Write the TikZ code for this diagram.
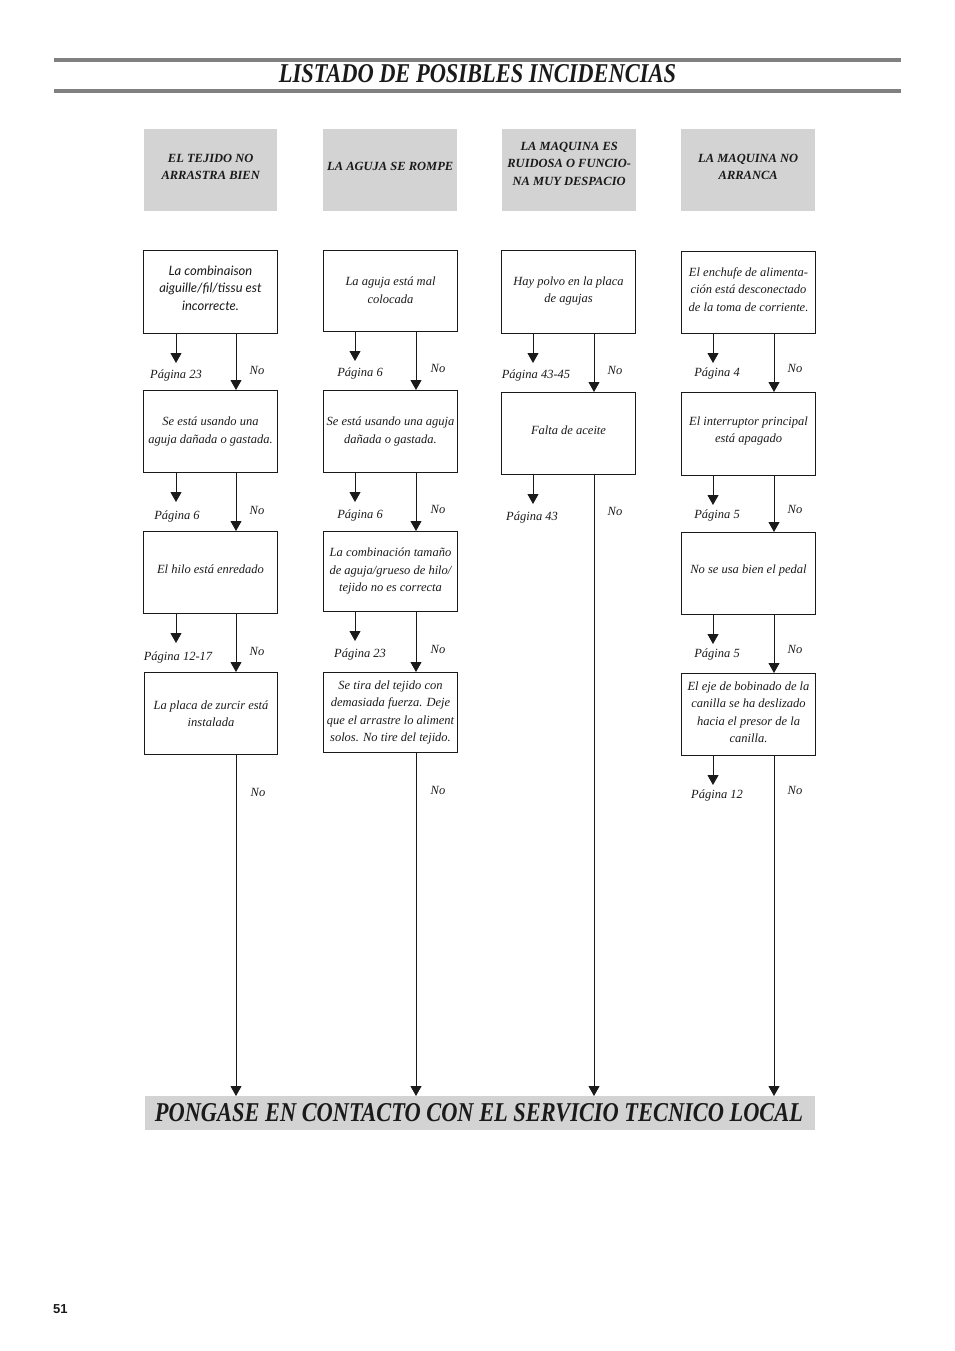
\documentclass[tikz,border=0pt]{standalone}
\usepackage{fontspec}
\setmainfont{Liberation Serif}
\setsansfont{Liberation Sans}
\newfontfamily\optfont{Lato}
\usetikzlibrary{arrows.meta,calc}
\definecolor{hdrgray}{HTML}{D3D3D3}
\definecolor{rulegray}{HTML}{808080}
\definecolor{ink}{HTML}{1A1A1A}
\newcommand\yesarr[2]{\draw[arr] ($(#1.south west)+(#2,0)$) -- ++(0,29);}
\newcommand\noarr[3]{\coordinate (#1r) at ($(#1.south west)+(#3,0)$); \draw[arr] (#1r) -- (#1r |- #2.north);}
% box text: name, dy (downwards positive), text
\newcommand\boxtext[3]{\node[btext] (#1t) at ($(#1.center)+(0,#2)$) {#3};}
\newcommand\hdrtext[3]{\node[htext] (#1t) at ($(#1.center)+(0,#2)$) {#3};}
\begin{document}
\begin{tikzpicture}[x=1pt,y=-1pt,
 hdr/.style={fill=hdrgray, draw=none, minimum width=134, minimum height=82, anchor=north west, inner sep=0},
 htext/.style={align=center, inner sep=0, font=\fontsize{12.5}{17.5}\selectfont\bfseries\itshape, text=ink},
 tbox/.style={draw=ink, line width=1pt, minimum width=134, minimum height=82, anchor=north west, inner sep=0},
 btext/.style={align=center, inner sep=0, font=\fontsize{12.5}{17.5}\selectfont\itshape, text=ink},
 lbl/.style={font=\fontsize{12.5}{14}\selectfont\itshape, text=ink, inner sep=0, anchor=base},
 arr/.style={draw=ink, line width=1pt, -{Triangle[length=10pt,width=11pt]}},
 rule/.style={draw=rulegray, line width=4pt}]
\useasboundingbox (0,0) rectangle (954,1351);
% title
\coordinate (r1a) at (54,60); \coordinate (r1b) at (901,60);
\coordinate (r2a) at (54,91); \coordinate (r2b) at (901,91);
\draw[rule] (r1a) -- (r1b);
\draw[rule] (r2a) -- (r2b);
\node[anchor=base, inner sep=0, text=ink] (title) at (477.5,83) {\resizebox{397pt}{18pt}{\bfseries\itshape LISTADO DE POSIBLES INCIDENCIAS}};
% headers
\node[hdr, minimum width=133] (h1) at (144,129) {};
\node[hdr] (h2) at (323,129) {};
\node[hdr] (h3) at (502,129) {};
\node[hdr] (h4) at (681,129) {};
\hdrtext{h1}{-3.5}{EL TEJIDO NO\\ARRASTRA BIEN}
\hdrtext{h2}{-4}{LA AGUJA SE ROMPE}
\hdrtext{h3}{-6.5}{LA MAQUINA ES\\RUIDOSA O FUNCIO-\\NA MUY DESPACIO}
\hdrtext{h4}{-3.5}{LA MAQUINA NO\\ARRANCA}
% column 1
\node[tbox, minimum height=83] (a1) at (143,250) {};
\node[tbox] (a2) at (143,390) {};
\node[tbox] (a3) at (143,531) {};
\node[tbox, minimum width=133] (a4) at (144,672) {};
\node[btext, font=\fontsize{13}{17.5}\selectfont\optfont\itshape] (a1t) at ($(a1.center)+(0,-4)$) {La combinaison\\aiguille/fil/tissu est\\incorrecte.};
\boxtext{a2}{0}{Se está usando una\\aguja dañada o gastada.}
\boxtext{a3}{-3}{El hilo está enredado}
\boxtext{a4}{0}{La placa de zurcir está\\instalada}
% column 2
\node[tbox, minimum height=81] (b1) at (323,250) {};
\node[tbox] (b2) at (323,390) {};
\node[tbox, minimum height=80] (b3) at (323,531) {};
\node[tbox, minimum height=80] (b4) at (323,672) {};
\boxtext{b1}{-1}{La aguja está mal\\colocada}
\boxtext{b2}{0}{Se está usando una aguja\\dañada o gastada.}
\boxtext{b3}{-0.5}{La combinación tamaño\\de aguja/grueso de hilo/\\tejido no es correcta}
\boxtext{b4}{0}{Se tira del tejido con\\demasiada fuerza. Deje\\que el arrastre lo aliment\\solos. No tire del tejido.}
% column 3
\node[tbox, minimum height=83] (c1) at (501,250) {};
\node[tbox] (c2) at (501,392) {};
\boxtext{c1}{-1}{Hay polvo en la placa\\de agujas}
\boxtext{c2}{-3}{Falta de aceite}
% column 4
\node[tbox] (d1) at (681,251) {};
\node[tbox, minimum height=83] (d2) at (681,392) {};
\node[tbox] (d3) at (681,532) {};
\node[tbox] (d4) at (681,673) {};
\boxtext{d1}{-3}{El enchufe de alimenta-\\ción está desconectado\\de la toma de corriente.}
\boxtext{d2}{-3}{El interruptor principal\\está apagado}
\boxtext{d3}{-3}{No se usa bien el pedal}
\boxtext{d4}{-2.5}{El eje de bobinado de la\\canilla se ha deslizado\\hacia el presor de la\\canilla.}
% banner
\node[fill=hdrgray, minimum width=670, minimum height=34, anchor=north west, inner sep=0] (fin) at (145,1096) {};
\node[anchor=base, inner sep=0, text=ink] (fintext) at (479,1121) {\resizebox{648pt}{18pt}{\bfseries\itshape PONGASE EN CONTACTO CON EL SERVICIO TECNICO LOCAL}};
% connectors col 1
\yesarr{a1}{33} \noarr{a1}{a2}{93}
\yesarr{a2}{33} \noarr{a2}{a3}{93}
\yesarr{a3}{33} \noarr{a3}{a4}{93}
\noarr{a4}{fin}{92}
% col 2
\yesarr{b1}{32} \noarr{b1}{b2}{93}
\yesarr{b2}{32} \noarr{b2}{b3}{93}
\yesarr{b3}{32} \noarr{b3}{b4}{93}
\noarr{b4}{fin}{93}
% col 3
\yesarr{c1}{32} \noarr{c1}{c2}{93}
\yesarr{c2}{32} \noarr{c2}{fin}{93}
% col 4
\yesarr{d1}{32} \noarr{d1}{d2}{93}
\yesarr{d2}{32} \noarr{d2}{d3}{93}
\yesarr{d3}{32} \noarr{d3}{d4}{93}
\yesarr{d4}{32} \noarr{d4}{fin}{93}
% labels col 1
\node[lbl] (pa1) at (176,378) {Página 23};   \node[lbl] (na1) at (257,374) {No};
\node[lbl] (pa2) at (177,519) {Página 6};    \node[lbl] (na2) at (257,514) {No};
\node[lbl] (pa3) at (178,660) {Página 12-17};\node[lbl] (na3) at (257,655) {No};
\node[lbl] (na4) at (258,796) {No};
% labels col 2
\node[lbl] (pb1) at (360,376) {Página 6};    \node[lbl] (nb1) at (438,372) {No};
\node[lbl] (pb2) at (360,518) {Página 6};    \node[lbl] (nb2) at (438,513) {No};
\node[lbl] (pb3) at (360,657) {Página 23};   \node[lbl] (nb3) at (438,653) {No};
\node[lbl] (nb4) at (438,794) {No};
% labels col 3
\node[lbl] (pc1) at (536,378) {Página 43-45};\node[lbl] (nc1) at (615,374) {No};
\node[lbl] (pc2) at (532,520) {Página 43};   \node[lbl] (nc2) at (615,515) {No};
% labels col 4
\node[lbl] (pd1) at (717,376) {Página 4};    \node[lbl] (nd1) at (795,372) {No};
\node[lbl] (pd2) at (717,518) {Página 5};    \node[lbl] (nd2) at (795,513) {No};
\node[lbl] (pd3) at (717,657) {Página 5};    \node[lbl] (nd3) at (795,653) {No};
\node[lbl] (pd4) at (717,798) {Página 12};   \node[lbl] (nd4) at (795,794) {No};
% page number
\node[anchor=base west, inner sep=0, text=ink, font=\sffamily\bfseries\fontsize{13}{15}\selectfont] (pg) at (53,1313) {51};
\end{tikzpicture}
\end{document}
